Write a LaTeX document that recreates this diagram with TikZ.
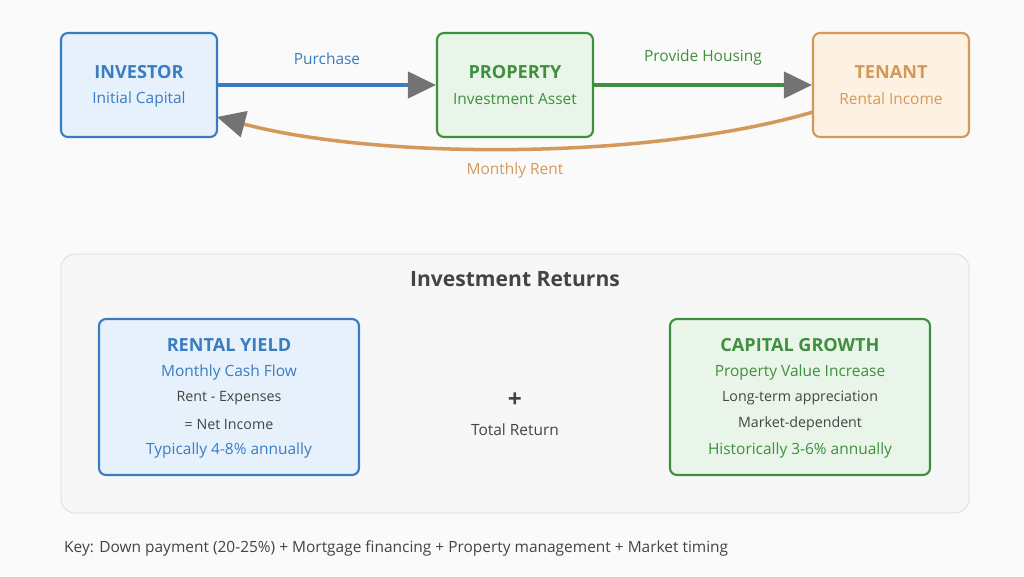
\documentclass[tikz,border=0pt]{standalone}
\usepackage{fontspec}
\setmainfont{Open Sans}
\usetikzlibrary{arrows.meta}
\definecolor{cblue}{HTML}{3A7CC0}
\definecolor{fblue}{HTML}{E6F1FB}
\definecolor{cgreen}{HTML}{3F8F3F}
\definecolor{fgreen}{HTML}{E8F5E8}
\definecolor{corange}{HTML}{D4995A}
\definecolor{forange}{HTML}{FDF1E2}
\definecolor{ctext}{HTML}{444444}
\begin{document}
\begin{tikzpicture}[x=0.02cm,y=-0.02cm,
		party/.style={draw=#1,line width=1.2pt,rounded corners=4pt,minimum width=156*0.02cm,minimum height=104*0.02cm},
		flow/.style={line width=2pt,-{Triangle[length=16pt,width=15pt,color=gray!90!black]}},
		lbl/.style={font=\fontsize{8.8}{10}\selectfont},
		sml/.style={font=\fontsize{8.1}{9}\selectfont,text=ctext},
		ttl/.style={font=\fontsize{10.3}{12}\selectfont\bfseries}]
	\fill[gray!4] (0,0) rectangle (1024,576);
	\useasboundingbox (0,0) rectangle (1024,576);
	% top row
	\node[party=cblue,fill=fblue] (investor) at (139,85) {};
	\node[party=cgreen,fill=fgreen] (property) at (515,85) {};
	\node[party=corange,fill=forange] (tenant) at (891,85) {};
	\node[ttl,text=cblue] at (139,72) {INVESTOR};
	\node[lbl,text=cblue] at (139,99) {Initial Capital};
	\node[ttl,text=cgreen] at (515,72) {PROPERTY};
	\node[lbl,text=cgreen] at (515,99) {Investment Asset};
	\node[ttl,text=corange] at (891,72) {TENANT};
	\node[lbl,text=corange] at (891,99) {Rental Income};
	\draw[flow,cblue] (investor.east) -- (property.west) node[midway,above=7pt,lbl] {Purchase};
	\draw[flow,cgreen] (property.east) -- (tenant.west) node[midway,above=7pt,lbl] {Provide Housing};
	\coordinate (rentstart) at (813,112);
	\coordinate (rentend) at (217,117);
	\draw[flow,corange] (rentstart) .. controls (650,160) and (380,160) .. (rentend);
	\node[lbl,text=corange] (rentlbl) at (515,170) {Monthly Rent};
	% returns panel
	\draw[gray!30,fill=gray!6,rounded corners=8pt] (61,254) rectangle (969,513);
	\node[font=\fontsize{12}{14}\selectfont\bfseries,text=ctext] (returns) at (515,279) {Investment Returns};
	\node[party=cblue,fill=fblue,minimum width=260*0.02cm,minimum height=156*0.02cm] (yield) at (229,397) {};
	\node[party=cgreen,fill=fgreen,minimum width=260*0.02cm,minimum height=156*0.02cm] (growth) at (800,397) {};
	\node[ttl,text=cblue] at (229,345) {RENTAL YIELD};
	\node[lbl,text=cblue] at (229,372) {Monthly Cash Flow};
	\node[sml] at (229,398) {Rent - Expenses};
	\node[sml] at (229,424) {= Net Income};
	\node[lbl,text=cblue] at (229,450) {Typically 4-8\% annually};
	\node[ttl,text=cgreen] at (800,345) {CAPITAL GROWTH};
	\node[lbl,text=cgreen] at (800,372) {Property Value Increase};
	\node[sml] at (800,398) {Long-term appreciation};
	\node[sml] at (800,424) {Market-dependent};
	\node[lbl,text=cgreen] at (800,450) {Historically 3-6\% annually};
	\node[font=\fontsize{14}{16}\selectfont\bfseries,text=ctext] (plus) at (515,400) {+};
	\node[lbl,text=ctext] (total) at (515,430) {Total Return};
	\node[lbl,text=ctext,anchor=west] (key) at (58,548) {Key: Down payment (20-25\%) + Mortgage financing + Property management + Market timing};
\end{tikzpicture}
\end{document}
